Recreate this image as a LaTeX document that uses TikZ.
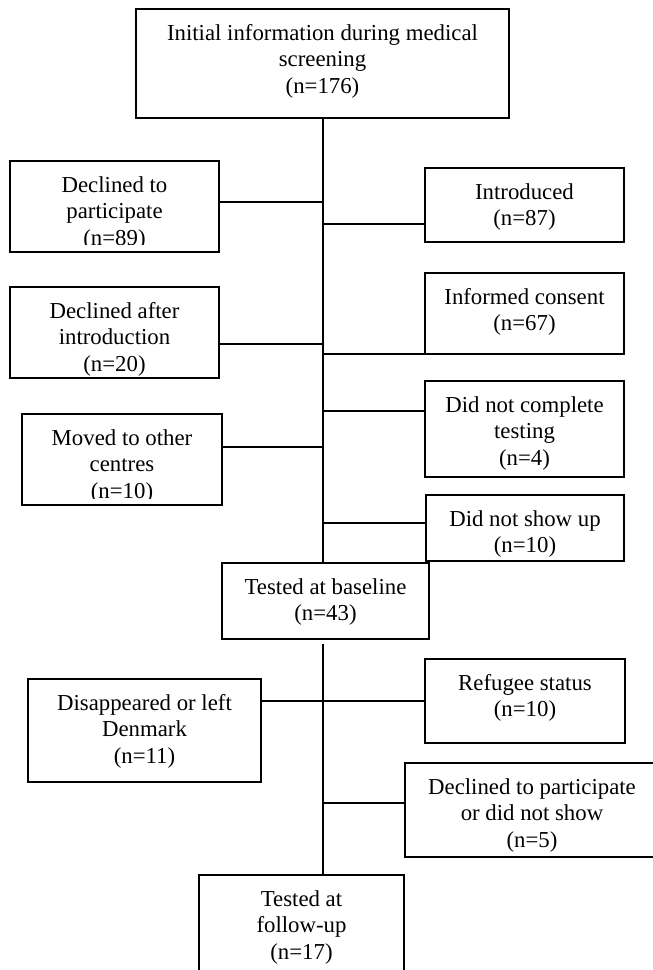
\documentclass[tikz,border=0pt]{standalone}
\usepackage{fontspec}
\setmainfont{Liberation Serif}
\usetikzlibrary{positioning}
\tikzset{font=\fontsize{22.8}{26.5}\selectfont}
\tikzset{flowbox/.style={draw, line width=2pt, inner sep=0pt, rectangle}}
\tikzset{boxtext/.style={align=center, inner sep=0pt}}
\tikzset{link/.style={line width=2pt}}

\begin{document}
\begin{tikzpicture}[x=1pt,y=-1pt]
  \useasboundingbox (0,0) rectangle (653,970);

  % boxes
  \node[flowbox, minimum width=373pt, minimum height=109pt](top) at (322.5,63.5){};
  \node[flowbox, minimum width=209pt, minimum height=91pt](dec1) at (114.5,206.5){};
  \node[flowbox, minimum width=199pt, minimum height=74pt](intro) at (524.5,205){};
  \node[flowbox, minimum width=209pt, minimum height=91pt](dec2) at (114.5,332.5){};
  \node[flowbox, minimum width=199pt, minimum height=81pt](consent) at (524.5,313.5){};
  \node[flowbox, minimum width=200pt, minimum height=91pt](moved) at (122,459.5){};
  \node[flowbox, minimum width=199pt, minimum height=96pt](incomplete) at (524.5,429){};
  \node[flowbox, minimum width=198pt, minimum height=66pt](noshow) at (525,528){};
  \node[flowbox, minimum width=207pt, minimum height=76pt](base) at (325.5,601){};
  \node[flowbox, minimum width=233pt, minimum height=103pt](dis) at (144.5,730.5){};
  \node[flowbox, minimum width=200pt, minimum height=84pt](refugee) at (525,701){};
  \node[flowbox, minimum width=254pt, minimum height=94pt](dec3) at (532,810){};
  \node[flowbox, minimum width=205pt, minimum height=115pt](follow) at (301.5,932.5){};

  % texts
  \node[boxtext, below=16pt of top.north](toptext){Initial information during medical\\screening\\(n=176)};
  \begin{scope}
    \clip (dec1.north west) rectangle ([yshift=9pt]dec1.south east);
    \node[boxtext, below=16pt of dec1.north](dec1text){Declined to\\participate\\(n=89)};
  \end{scope}
  \node[boxtext, below=16pt of intro.north](introtext){Introduced\\(n=87)};
  \node[boxtext, below=16pt of dec2.north](dec2text){Declined after\\introduction\\(n=20)};
  \node[boxtext, below=16pt of consent.north](consenttext){Informed consent\\(n=67)};
  \begin{scope}
    \clip (moved.north west) rectangle ([yshift=8pt]moved.south east);
    \node[boxtext, below=16pt of moved.north](movedtext){Moved to other\\centres\\(n=10)};
  \end{scope}
  \node[boxtext, below=16pt of incomplete.north](incompletetext){Did not complete\\testing\\(n=4)};
  \node[boxtext, below=16pt of noshow.north](noshowtext){Did not show up\\(n=10)};
  \node[boxtext, below=16pt of base.north](basetext){Tested at baseline\\(n=43)};
  \node[boxtext, below=16pt of dis.north](distext){Disappeared or left\\Denmark\\(n=11)};
  \node[boxtext, below=16pt of refugee.north](refugeetext){Refugee status\\(n=10)};
  \node[boxtext, below=16pt of dec3.north](dec3text){Declined to participate\\or did not show\\(n=5)};
  \node[boxtext, below=16pt of follow.north](followtext){Tested at\\follow-up\\(n=17)};

  % branch points on the trunk
  \coordinate(j1) at (322.5,202);
  \coordinate(j2) at (322.5,224);
  \coordinate(j3) at (322.5,344);
  \coordinate(j4) at (322.5,354);
  \coordinate(j5) at (322.5,411);
  \coordinate(j6) at (322.5,447);
  \coordinate(j7) at (322.5,523);
  \coordinate(j8) at (322.5,644);
  \coordinate(j9) at (322.5,803);

  \draw[link] (top.south) -- (top.south |- base.north);
  \draw[link] (j1 -| dec1.east) -- (j1);
  \draw[link] (j2) -- (j2 -| intro.west);
  \draw[link] (j3 -| dec2.east) -- (j3);
  \draw[link] (j4) -- (j4 -| consent.west);
  \draw[link] (j5) -- (j5 -| incomplete.west);
  \draw[link] (j6 -| moved.east) -- (j6);
  \draw[link] (j7) -- (j7 -| noshow.west);

  \draw[link] (j8) -- (j8 |- follow.north);
  \draw[link] (dis.east |- refugee.west) -- (refugee.west);
  \draw[link] (j9) -- (j9 -| dec3.west);

\end{tikzpicture}
\end{document}
